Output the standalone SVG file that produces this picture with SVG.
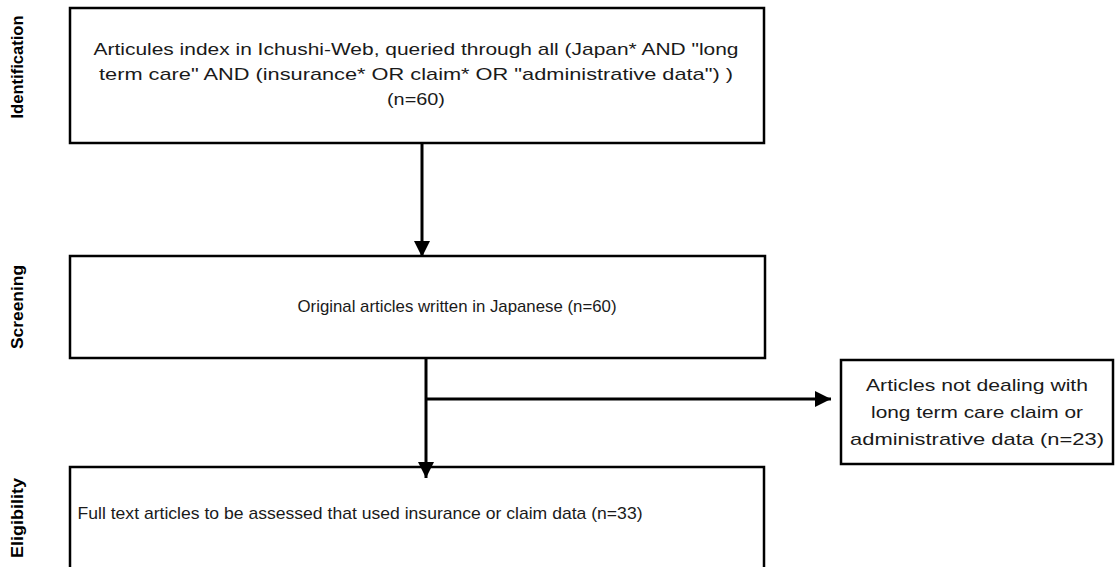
<svg xmlns="http://www.w3.org/2000/svg" width="1117" height="567" viewBox="0 0 1117 567">
<style>
.box{fill:#fff;stroke:#000;stroke-width:2.5}
.t{font-family:"Liberation Sans",Arial,sans-serif;font-size:17px;fill:#1a1a1a;text-anchor:middle}
.side{font-family:"Liberation Sans",Arial,sans-serif;font-size:16px;font-weight:bold;fill:#000;text-anchor:middle}
.ln{fill:none;stroke:#000;stroke-width:3}
</style>
<defs>
<marker id="ah" viewBox="0 0 10 10" refX="10" refY="5" markerWidth="5.5" markerHeight="5.5" markerUnits="strokeWidth" orient="auto">
<path d="M0,0 L10,5 L0,10 z" fill="#000"/>
</marker>
</defs>
<g id="labels">
<text class="side" transform="translate(23,67) rotate(-90)" textLength="103" lengthAdjust="spacingAndGlyphs">Identification</text>
<text class="side" transform="translate(23,307) rotate(-90)" textLength="84" lengthAdjust="spacingAndGlyphs">Screening</text>
<text class="side" transform="translate(23,518) rotate(-90)" textLength="80" lengthAdjust="spacingAndGlyphs">Eligibility</text>
</g>
<g id="n1">
<rect class="box" x="70" y="8" width="694" height="135"/>
<text class="t" x="416" y="55" textLength="645" lengthAdjust="spacingAndGlyphs">Articules index in Ichushi-Web, queried through all (Japan* AND "long</text>
<text class="t" x="416" y="80" textLength="634" lengthAdjust="spacingAndGlyphs">term care" AND (insurance* OR claim* OR "administrative data") )</text>
<text class="t" x="416" y="105" textLength="58" lengthAdjust="spacingAndGlyphs">(n=60)</text>
</g>
<g id="n2">
<rect class="box" x="70" y="256" width="695" height="102"/>
<text class="t" x="457" y="312" textLength="319" lengthAdjust="spacingAndGlyphs">Original articles written in Japanese  (n=60)</text>
</g>
<g id="n3">
<rect class="box" x="841" y="360" width="272" height="104"/>
<text class="t" x="977" y="391" textLength="222" lengthAdjust="spacingAndGlyphs">Articles not dealing with</text>
<text class="t" x="977" y="418" textLength="212" lengthAdjust="spacingAndGlyphs">long term care claim or</text>
<text class="t" x="977" y="445" textLength="254" lengthAdjust="spacingAndGlyphs">administrative data (n=23)</text>
</g>
<g id="n4">
<rect class="box" x="70" y="467" width="694" height="110"/>
<text class="t" x="360" y="519" textLength="565" lengthAdjust="spacingAndGlyphs">Full text articles to be assessed that used insurance or claim data (n=33)</text>
</g>
<g id="connectors">
<line class="ln" x1="422" y1="143" x2="422" y2="257" marker-end="url(#ah)"/>
<line class="ln" x1="426" y1="358" x2="426" y2="478" marker-end="url(#ah)"/>
<line class="ln" x1="426" y1="399" x2="831" y2="399" marker-end="url(#ah)"/>
</g>
</svg>
